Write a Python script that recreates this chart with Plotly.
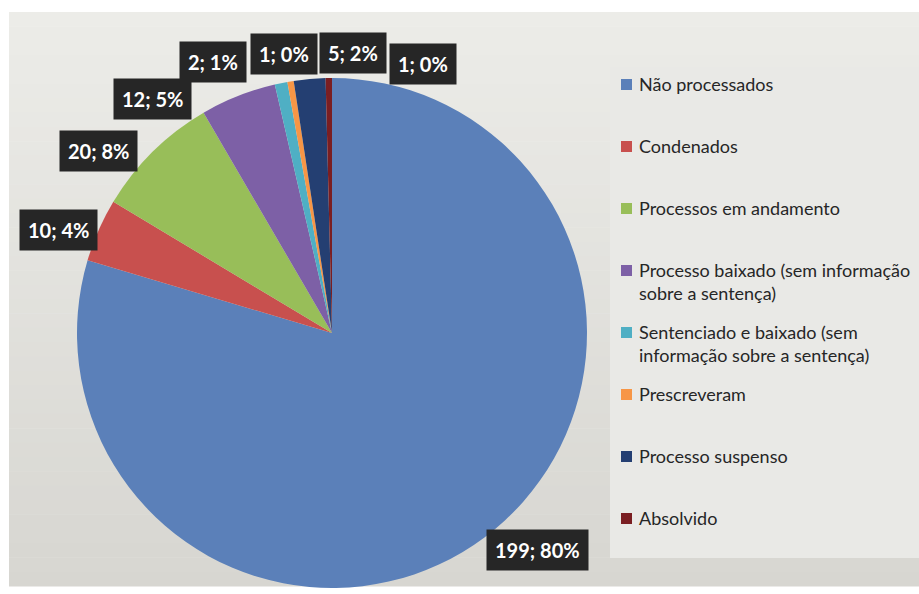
import math
import plotly.graph_objects as go

categories = [
    "Não processados",
    "Condenados",
    "Processos em andamento",
    "Processo baixado (sem informação<br>sobre a sentença)",
    "Sentenciado e baixado (sem<br>informação sobre a sentença)",
    "Prescreveram",
    "Processo suspenso",
    "Absolvido",
]
values = [199, 10, 20, 12, 2, 1, 5, 1]
colors = ["#5B80B9", "#C8504E", "#98BE59", "#7D60A6", "#4FAFC4", "#F79646", "#243F72", "#7A1E22"]

# label nudges in pixels (layout only)
label_dx = [29, -3, -26, -71, -60, 0, 47, 95]
label_dy = [20, -16, -28, -41, -19, -13, -15, -27]

W, H = 919, 594
cx, cy, r = 332, 333, 255

fig = go.Figure()
fig.add_trace(go.Pie(
    labels=categories, values=values, sort=False, direction="clockwise", rotation=0,
    marker=dict(colors=colors, line=dict(width=0)),
    textinfo="none", showlegend=False, hoverinfo="label+value+percent",
    domain=dict(x=[(cx - r) / W, (cx + r) / W], y=[1 - (cy + r) / H, 1 - (cy - r) / H]),
))

shapes = []
# soft vertical gradient background
top_px, bot_px = 12, 586
n = 40
c0 = (236, 236, 232)
c1 = (215, 214, 209)
for k in range(n):
    t = k / (n - 1)
    col = tuple(round(c0[j] + (c1[j] - c0[j]) * t) for j in range(3))
    y_a = top_px + (bot_px - top_px) * k / n
    y_b = top_px + (bot_px - top_px) * (k + 1) / n
    shapes.append(dict(type="rect", xref="paper", yref="paper", x0=9 / W, x1=1,
                       y0=1 - (y_b + 0.5) / H, y1=1 - y_a / H,
                       fillcolor="rgb(%d,%d,%d)" % col, line=dict(width=0), layer="below"))
shapes.append(dict(type="rect", xref="paper", yref="paper", x0=610 / W, x1=1, y0=1 - 558 / H, y1=1 - 67 / H,
                   fillcolor="#e9e9e6", line=dict(width=0), layer="below"))
annotations = []

total = sum(values)
cum = 0
for i, v in enumerate(values):
    mid = (cum + v / 2) / total
    cum += v
    th = 2 * math.pi * mid
    lr = 1.16 * r
    px = cx + lr * math.sin(th)
    py = cy - lr * math.cos(th)
    pct = round(100 * v / total)
    annotations.append(dict(
        x=px / W, y=1 - py / H, xref="paper", yref="paper", showarrow=False,
        text=f"<b>{v}; {pct}%</b>", font=dict(family="Lato", size=20, color="white"),
        bgcolor="#262626", borderpad=8, xshift=label_dx[i], yshift=label_dy[i],
        xanchor="center", yanchor="middle",
    ))

# manual legend
for i, (lab, c) in enumerate(zip(categories, colors)):
    ty = 84 + 62 * i
    shapes.append(dict(type="rect", xref="paper", yref="paper",
                       x0=621 / W, x1=632 / W, y0=1 - (ty + 6) / H, y1=1 - (ty - 5) / H,
                       fillcolor=c, line=dict(width=0)))
    annotations.append(dict(
        x=637 / W, y=1 - (ty - 13) / H, xref="paper", yref="paper", showarrow=False,
        text=lab, align="left", xanchor="left", yanchor="top",
        font=dict(family="Lato", size=18, color="#262626"),
    ))

fig.update_layout(
    width=W, height=H, margin=dict(l=0, r=0, t=0, b=0),
    paper_bgcolor="white", plot_bgcolor="white",
    shapes=shapes, annotations=annotations,
)
fig.write_html("out.html")
